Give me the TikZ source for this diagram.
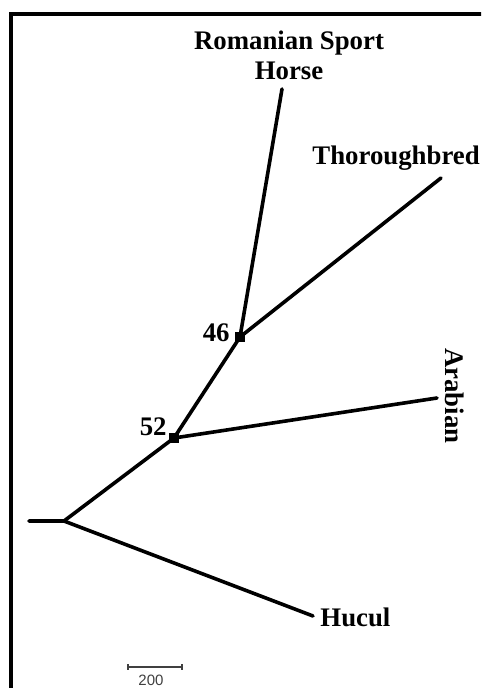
\documentclass[tikz,border=0pt]{standalone}
\usepackage{fontspec}
\setmainfont{Liberation Serif}
\setsansfont{Liberation Sans}
\usetikzlibrary{positioning}

\begin{document}
\begin{tikzpicture}[
          x=0.5pt, y=-0.5pt,
          branch/.style={line width=1.8pt, line cap=round, line join=round},
          junction/.style={fill=black, inner sep=0pt, minimum size=5pt},
          taxon/.style={inner sep=0pt, font=\bfseries\fontsize{13.4}{15}\selectfont},
          support/.style={taxon, anchor=base east},
          frame/.style={line width=2pt},
          scalebar/.style={line width=0.7pt, black!75}
        ]

        \clip (0,0) rectangle (481,688);
        \fill[white] (0,0) rectangle (481,688);

        % -------- Frame --------
        \draw[frame] (11,700) -- (11,14) -- (495,14);

        % -------- Tree nodes --------
        \coordinate (stub) at (29,521);
        \coordinate (root) at (64,521);
        \node[junction] (n52) at (174,438) {};
        \node[junction] (n46) at (240,337) {};
        \coordinate (rsh) at (282,89);
        \coordinate (thor) at (441,178);
        \coordinate (arab) at (437,398);
        \coordinate (huc) at (313,616);

        % -------- Branches --------
        \draw[branch] (stub) -- (root) -- (n52.center) -- (n46.center) -- (rsh);
        \draw[branch] (n46.center) -- (thor);
        \draw[branch] (n52.center) -- (arab);
        \draw[branch] (root) -- (huc);

        % -------- Labels --------
        \node[taxon, anchor=north, align=center] (rshlbl) at (289,31) {Romanian Sport\\Horse};
        \node[taxon, anchor=base west] (thorlbl) at (312,165) {Thoroughbred};
        \node[taxon, rotate=-90] (arablbl) at (455,396) {Arabian};
        \node[taxon, anchor=base west] (huclbl) at (320,626) {Hucul};
        \node[support] (s46) at (230,342) {46};
        \node[support] (s52) at (167,435) {52};

        % -------- Scale bar --------
        \coordinate (sbl) at (128,667);
        \coordinate (sbr) at (182,667);
        \draw[scalebar] (sbl) -- (sbr);
        \draw[scalebar] ([yshift=1.5pt]sbl) -- ([yshift=-1.5pt]sbl);
        \draw[scalebar] ([yshift=1.5pt]sbr) -- ([yshift=-1.5pt]sbr);
        \node[font=\sffamily\fontsize{7.5}{9}\selectfont, text=black!75, inner sep=0pt] (sblbl) at (151,680) {200};

      \end{tikzpicture}
\end{document}
